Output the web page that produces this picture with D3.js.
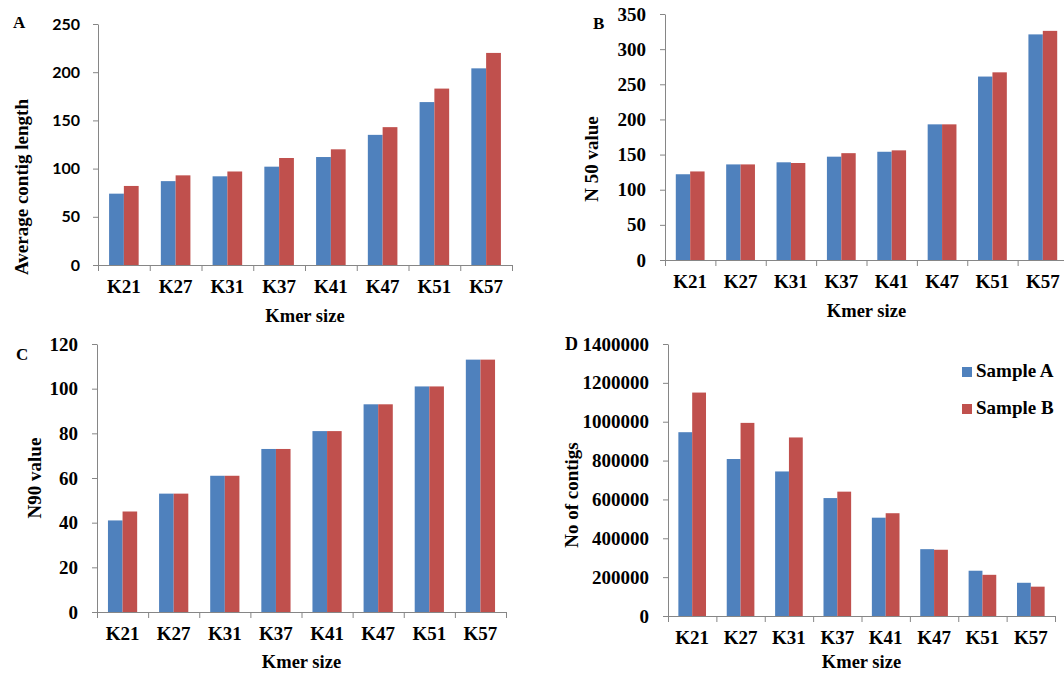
<!DOCTYPE html>
<html>
<head>
<meta charset="utf-8">
<script src="https://cdn.jsdelivr.net/npm/d3@7"></script>
<style>
  body { margin: 0; background: #fff; }
  svg { display: block; }
</style>
</head>
<body>
<svg id="chart"></svg>
<script>

// kmer sizes on the x axis
var kmers = ["K21", "K27", "K31", "K37", "K41", "K47", "K51", "K57"]
var seriesNames = ["Sample A", "Sample B"]

// A - average contig length
var avgLenA = [74, 87, 92, 102, 112, 135, 169, 204]
var avgLenB = [82, 93, 97, 111, 120, 143, 183, 220]

// B - N50
var n50A = [122, 136, 139, 147, 154, 193, 261, 321]
var n50B = [126, 136, 138, 152, 156, 193, 267, 326]

// C - N90
var n90A = [41, 53, 61, 73, 81, 93, 101, 113]
var n90B = [45, 53, 61, 73, 81, 93, 101, 113]

// D - number of contigs
var contigsA = [946000, 808000, 744000, 607000, 506000, 344000, 233000, 171000]
var contigsB = [1150000, 994000, 919000, 640000, 529000, 341000, 212000, 151000]

var colors = ["#4F81BD", "#C0504D"]
var serif = "'Times New Roman', 'Liberation Serif', serif"

var svg = d3.select("#chart")
  .attr("width", 1064)
  .attr("height", 673)

var drawPanel = function(p){

  var g = svg.append("g")

  var y = d3.scaleLinear()
    .domain([0, p.yMax])
    .range([p.bottom, p.top])

  var xCat = d3.scaleBand()
    .domain(kmers)
    .range([p.left, p.right])

  // excel style clusters, gap width 150%
  var xSub = d3.scaleBand()
    .domain(seriesNames)
    .range([0, xCat.bandwidth()])
    .paddingOuter(0.75)

  var xIdx = d3.scaleLinear()
    .domain([0, kmers.length])
    .range([p.left, p.right])

  var rows = kmers.map(function(k, i){
    return {k: k, vals: [p.a[i], p.b[i]]}
  })

  g.selectAll("g.cat")
    .data(rows)
    .enter()
    .append("g")
    .attr("transform", function(d){ return "translate(" + xCat(d.k) + ",0)" })
    .selectAll("rect")
    .data(function(d){ return d.vals })
    .enter()
    .append("rect")
    .attr("x", function(d, i){ return xSub(seriesNames[i]) })
    .attr("y", function(d){ return y(d) })
    .attr("width", xSub.bandwidth())
    .attr("height", function(d){ return p.bottom - y(d) })
    .attr("fill", function(d, i){ return colors[i] })

  // y axis
  var yAxis = d3.axisLeft(y)
    .tickValues(d3.range(0, p.yMax + p.step / 2, p.step))
    .tickFormat(d3.format("d"))
    .tickSize(5)
    .tickSizeOuter(0)
    .tickPadding(p.yPad)
  var ya = g.append("g")
    .attr("transform", "translate(" + p.left + ",0)")
    .call(yAxis)
  ya.selectAll("path, line").attr("stroke", "#868686")
  ya.selectAll("text")
    .attr("fill", "#000")
    .style("font-family", p.yFont)
    .style("font-weight", "bold")
    .style("font-size", p.yFontSize + "px")

  // x axis tick marks between categories
  var xTicks = d3.axisBottom(xIdx)
    .tickValues(d3.range(0, kmers.length + 1))
    .tickFormat("")
    .tickSize(6)
    .tickSizeOuter(0)
  var xt = g.append("g")
    .attr("transform", "translate(0," + p.bottom + ")")
    .call(xTicks)
  xt.selectAll("path, line").attr("stroke", "#868686")

  // category labels
  var xLabels = d3.axisBottom(xCat).tickSize(0).tickPadding(15)
  var xl = g.append("g")
    .attr("transform", "translate(0," + p.bottom + ")")
    .call(xLabels)
  xl.select(".domain").remove()
  xl.selectAll("text")
    .attr("fill", "#000")
    .style("font-family", serif)
    .style("font-weight", "bold")
    .style("font-size", "19px")

  g.append("text")
    .attr("x", (p.left + p.right) / 2)
    .attr("y", p.bottom + p.xTitleOff)
    .attr("text-anchor", "middle")
    .style("font-family", serif)
    .style("font-weight", "bold")
    .style("font-size", "18.5px")
    .text("Kmer size")

  g.append("text")
    .attr("transform", "translate(" + (p.titleX + 6) + "," + p.titleY + ") rotate(-90)")
    .attr("text-anchor", "middle")
    .style("font-family", serif)
    .style("font-weight", "bold")
    .style("font-size", "19px")
    .text(p.yTitle)

  g.append("text")
    .attr("x", p.letterX)
    .attr("y", p.letterY)
    .style("font-family", serif)
    .style("font-weight", "bold")
    .style("font-size", p.letterSize + "px")
    .text(p.letter)
}

drawPanel({letter: "A", letterX: 13, letterY: 28, letterSize: 17, a: avgLenA, b: avgLenB,
  yMax: 250, step: 50, yTitle: "Average contig length",
  left: 98, right: 512, top: 24, bottom: 265, titleX: 22, titleY: 187, xTitleOff: 57,
  yFont: "Lato, 'Open Sans', sans-serif", yFontSize: 16, yPad: 13})

drawPanel({letter: "B", letterX: 593, letterY: 29, letterSize: 17, a: n50A, b: n50B,
  yMax: 350, step: 50, yTitle: "N 50 value",
  left: 665, right: 1068, top: 14, bottom: 260, titleX: 592, titleY: 159, xTitleOff: 57,
  yFont: serif, yFontSize: 19, yPad: 14})

drawPanel({letter: "C", letterX: 16, letterY: 360, letterSize: 17, a: n90A, b: n90B,
  yMax: 120, step: 20, yTitle: "N90 value",
  left: 97, right: 506, top: 344, bottom: 612, titleX: 35, titleY: 478, xTitleOff: 56,
  yFont: serif, yFontSize: 19, yPad: 14})

drawPanel({letter: "D", letterX: 565, letterY: 350, letterSize: 18, a: contigsA, b: contigsB,
  yMax: 1400000, step: 200000, yTitle: "No of contigs",
  left: 668, right: 1055, top: 344, bottom: 616, titleX: 572, titleY: 495, xTitleOff: 52,
  yFont: serif, yFontSize: 19, yPad: 14})

// legend for panel D
var legend = svg.append("g")
  .selectAll("g")
  .data(seriesNames)
  .enter()
  .append("g")
  .attr("transform", function(d, i){ return "translate(962," + (367 + i * 37) + ")" })

legend.append("rect")
  .attr("width", 10)
  .attr("height", 10)
  .attr("fill", function(d, i){ return colors[i] })

legend.append("text")
  .attr("x", 14)
  .attr("y", 10)
  .style("font-family", serif)
  .style("font-weight", "bold")
  .style("font-size", "19px")
  .text(function(d){ return d })

</script>
</body>
</html>
